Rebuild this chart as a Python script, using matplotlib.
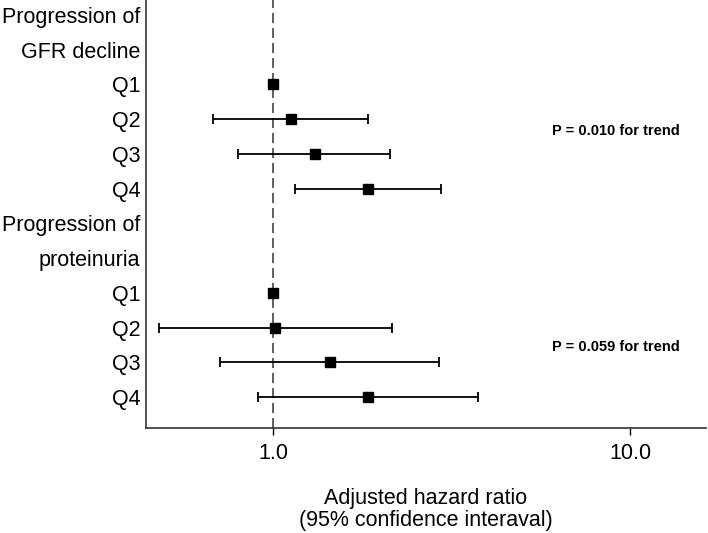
import matplotlib
matplotlib.use("Agg")
import matplotlib.pyplot as plt
import numpy as np

plt.rcParams['font.family'] = ['Liberation Sans', 'DejaVu Sans']

row_labels = ["Progression of", "GFR decline", "Q1", "Q2", "Q3", "Q4",
              "Progression of", "proteinuria", "Q1", "Q2", "Q3", "Q4"]
# hazard ratios (None for header rows)
hr = [None, None, 1.0, 1.12, 1.31, 1.84, None, None, 1.0, 1.01, 1.44, 1.84]
lo = [None, None, 1.0, 0.68, 0.80, 1.15, None, None, 1.0, 0.48, 0.71, 0.91]
hi = [None, None, 1.0, 1.84, 2.13, 2.96, None, None, 1.0, 2.15, 2.92, 3.75]
p_texts = ["P = 0.010 for trend", "P = 0.059 for trend"]
p_rows = [3.33, 9.56]

fig = plt.figure(figsize=(7.08, 5.33), dpi=100)
ax = fig.add_axes([146/708, 1 - 428/533, (706-146)/708, 428/533])

for i, (h, l, u) in enumerate(zip(hr, lo, hi)):
    if h is None:
        continue
    if u > l:
        ax.errorbar([h], [i], xerr=[[h - l], [u - h]], fmt='none', ecolor='black',
                    elinewidth=1.3, capsize=3.8, capthick=1.3, zorder=3)
    ax.plot([h], [i], marker='s', color='black', markersize=7.8, linestyle='none', zorder=4)

ax.axvline(1.0, color='#444444', linestyle=(0, (6, 3)), linewidth=1.2, zorder=1)

ax.set_xscale('log')
ax.set_xlim(10**(-0.356), 10**(1.213))
ax.set_ylim(11.89, -0.43)

ax.set_xticks([1, 10])
ax.set_xticklabels(["1.0", "10.0"], fontsize=15.5)
ax.xaxis.set_minor_locator(matplotlib.ticker.NullLocator())
ax.tick_params(axis='x', length=5, width=1, pad=6)

ax.set_yticks(range(len(row_labels)))
ax.set_yticklabels(row_labels, fontsize=15.5)
ax.tick_params(axis='y', length=0, pad=4)

for s in ['top', 'right']:
    ax.spines[s].set_visible(False)
for s in ['left', 'bottom']:
    ax.spines[s].set_linewidth(1.2)
    ax.spines[s].set_color('#333333')

for t, r in zip(p_texts, p_rows):
    ax.text(0.725, r, t, transform=ax.get_yaxis_transform(), fontsize=10.5,
            fontweight='bold', ha='left', va='center')

ax.set_xlabel("Adjusted hazard ratio\n(95% confidence interaval)", fontsize=15.5,
              labelpad=17, linespacing=1.05)

fig.savefig("out.png", dpi=100)
